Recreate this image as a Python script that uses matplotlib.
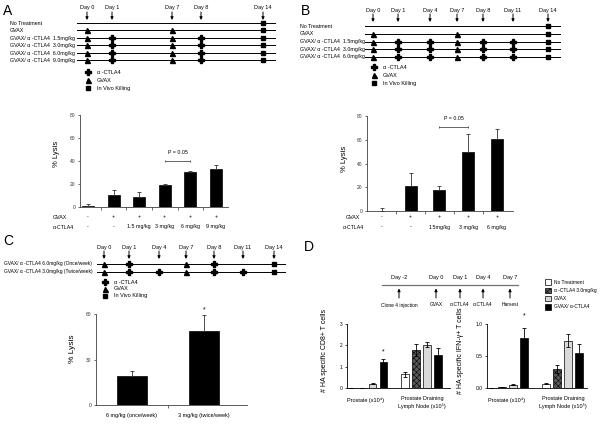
import matplotlib
matplotlib.use("Agg")
import matplotlib.pyplot as plt
import numpy as np

plt.rcParams['font.family'] = ['Liberation Sans', 'DejaVu Sans']
plt.rcParams['hatch.linewidth'] = 0.4

# ---------------- data ----------------
# Panel A schedule
a_days = [0, 1, 7, 8, 14]
a_rows = ["No Treatment", "GVAX",
          "GVAX/ α -CTLA4  1.5mg/kg", "GVAX/ α -CTLA4  3.0mg/kg",
          "GVAX/ α -CTLA4  6.0mg/kg", "GVAX/ α -CTLA4  9.0mg/kg"]
a_gvax = [[], [0, 7], [0, 7], [0, 7], [0, 7], [0, 7]]
a_ctla4 = [[], [], [1, 8], [1, 8], [1, 8], [1, 8]]
kill_day = 14
# Panel A lysis
a_lysis = [0.5, 10.0, 8.6, 19.0, 30.5, 33.4]
a_err = [2.1, 4.7, 4.1, 1.1, 1.2, 2.9]
a_gvax_row = ["-", "+", "+", "+", "+", "+"]
a_ctla4_row = ["-", "-", "1.5 mg/kg", "3 mg/kg", "6 mg/kg", "9 mg/kg"]

# Panel B schedule
b_days = [0, 1, 4, 7, 8, 11, 14]
b_rows = ["No Treatment", "GVAX",
          "GVAX/ α -CTLA4  1.5mg/kg", "GVAX/ α -CTLA4  3.0mg/kg",
          "GVAX/ α -CTLA4  6.0mg/kg"]
b_gvax = [[], [0, 7], [0, 7], [0, 7], [0, 7]]
b_ctla4 = [[], [], [1, 4, 8, 11], [1, 4, 8, 11], [1, 4, 8, 11]]
# Panel B lysis
b_lysis = [0.3, 21.2, 18.0, 50.0, 61.0]
b_err = [2.0, 11.2, 3.0, 14.5, 8.0]
b_gvax_row = ["-", "+", "+", "+", "+"]
b_ctla4_row = ["-", "-", "1.5mg/kg", "3 mg/kg", "6 mg/kg"]

# Panel C schedule
c_days = [0, 1, 4, 7, 8, 11, 14]
c_rows = ["GVAX/ α -CTLA4 6.0mg/kg (Once/week)",
          "GVAX/ α -CTLA4 3.0mg/kg (Twice/week)"]
c_gvax = [[0, 7], [0, 7]]
c_ctla4 = [[1, 8], [1, 4, 8, 11]]
# Panel C lysis
c_labels = ["6 mg/kg (once/week)", "3 mg/kg (twice/week)"]
c_lysis = [18.8, 48.6]
c_err = [3.7, 11.0]

# Panel D timeline
d_days = ["Day -2", "Day 0", "Day 1", "Day 4", "Day 7"]
d_events = ["Clone 4 injection", "GVAX", "α-CTLA4", "α-CTLA4", "Harvest"]
# Panel D bars
d_groups = ["Prostate (x10⁴)", "Prostate Draining\nLymph Node (x10⁵)"]
d_series = ["No Treatment", "α -CTLA4 3.0mg/kg", "GVAX", "GVAX/ α-CTLA4"]
d_cd8 = [[0.0, 0.64], [0.02, 1.80], [0.20, 2.02], [1.20, 1.53]]
d_cd8_err = [[0.0, 0.12], [0.0, 0.28], [0.03, 0.12], [0.15, 0.33]]
d_ifn = [[0.0, 0.07], [0.02, 0.295], [0.053, 0.74], [0.78, 0.55]]
d_ifn_err = [[0.0, 0.01], [0.0, 0.06], [0.01, 0.10], [0.16, 0.14]]

# ---------------- layout ----------------
W, H = 600, 443
fig = plt.figure(figsize=(6, 4.43), dpi=100)
ov = fig.add_axes([0, 0, 1, 1], zorder=0)
ov.set_xlim(0, W)
ov.set_ylim(H, 0)
ov.axis('off')


def rect(x0, y0, x1, y1):
    return [x0 / W, 1 - y1 / H, (x1 - x0) / W, (y1 - y0) / H]


FS = 4.0  # small schematic text


def schematic(days, day_x, rows, gvax, ctla4, rows_y, line_x, label_x,
              day_y, arrow_y, leg_x, leg_y, row_fs=FS):
    for d in days:
        ov.text(day_x[d], day_y, f"Day {d}", ha='center', va='center', fontsize=FS)
        ov.annotate('', xy=(day_x[d], arrow_y[1]), xytext=(day_x[d], arrow_y[0]),
                    arrowprops=dict(arrowstyle='-|>', color='black', lw=0.7,
                                    mutation_scale=4, shrinkA=0, shrinkB=0))
    for i, row in enumerate(rows):
        y = rows_y[i]
        ov.plot(line_x, [y, y], color='black', lw=0.7)
        ov.text(label_x, y, row, ha='left', va='center', fontsize=row_fs)
        if gvax[i]:
            ov.plot([day_x[d] for d in gvax[i]], [y] * len(gvax[i]), ls='none',
                    marker='^', color='black', ms=3.6)
        if ctla4[i]:
            ov.plot([day_x[d] for d in ctla4[i]], [y] * len(ctla4[i]), ls='none',
                    marker='P', color='black', ms=4.4)
        ov.plot([day_x[kill_day]], [y], ls='none', marker='s', color='black', ms=3.4)
    legs = [('P', 4.4, "α -CTLA4"), ('^', 3.6, "GVAX"), ('s', 3.4, "In Vivo Killing")]
    for (m, ms, t), yy in zip(legs, leg_y):
        ov.plot([leg_x], [yy], ls='none', marker=m, color='black', ms=ms)
        ov.text(leg_x + 9, yy, t, ha='left', va='center', fontsize=FS)


# Panel letters
for lt, (x, y) in zip("ABCD", [(3, 11), (301, 11), (3, 241), (304, 247)]):
    ov.text(x, y, lt, fontsize=10, ha='left', va='center')

# A schematic
schematic(a_days, {0: 87, 1: 112, 7: 172, 8: 201, 14: 263}, a_rows, a_gvax, a_ctla4,
          [23, 30, 38, 45, 53, 60], [77, 275], 10, 7, (12, 20), 88, [72, 80, 88],
          row_fs=3.8)
# B schematic
schematic(b_days, {0: 373, 1: 398, 4: 430, 7: 457, 8: 483, 11: 513, 14: 548},
          b_rows, b_gvax, b_ctla4, [26, 33.5, 41.5, 49, 56.5], [365, 560], 300, 10,
          (14, 22), 374, [67, 75, 83], row_fs=3.8)
# C schematic
schematic(c_days, {0: 104, 1: 129, 4: 159, 7: 186, 8: 214, 11: 243, 14: 274},
          c_rows, c_gvax, c_ctla4, [264, 272], [97, 285], 4, 247, (251, 259),
          105, [282, 289, 296], row_fs=3.5)


def lysis_ax(px, vals, errs, ymax, yticks, xlim, width, ticks_x):
    ax = fig.add_axes(rect(*px), zorder=1)
    ax.patch.set_alpha(0)
    x = np.arange(len(vals))
    ax.bar(x, vals, width=width, color='black', edgecolor='black', lw=0.5)
    ax.errorbar(x, vals, yerr=[np.zeros(len(errs)), errs], fmt='none',
                ecolor='0.2', elinewidth=0.6, capsize=1.5, capthick=0.6)
    ax.set_xlim(*xlim)
    ax.set_ylim(0, ymax)
    ax.set_yticks(yticks)
    ax.set_xticks(ticks_x)
    ax.set_xticklabels([])
    for s in ['top', 'right']:
        ax.spines[s].set_visible(False)
    for s in ['left', 'bottom']:
        ax.spines[s].set_linewidth(0.6)
        ax.spines[s].set_color('0.25')
    ax.tick_params(labelsize=3.5, length=1.8, width=0.5, pad=1.5, colors='0.2')
    return ax, x


def below(ax, px, ypx):
    # convert pixel y to axes fraction
    return (px[3] - ypx) / (px[3] - px[1])


# A bars
pxA = (80, 115, 228, 207)
axA, xA = lysis_ax(pxA, a_lysis, a_err, 80, [0, 20, 40, 60, 80], (-0.31, 5.47), 0.47,
                   np.arange(len(a_lysis) - 1) + 0.5)
axA.set_ylabel("% Lysis", fontsize=5.5)
axA.yaxis.set_label_coords((60 - 80) / 148, 0.58)
axA.plot([3, 4], [40, 40], color='0.3', lw=0.6, marker='|', ms=2, mew=0.6)
axA.text(3.5, 47.5, "P = 0.05", ha='center', va='center', fontsize=3.8)
for i in range(len(a_lysis)):
    axA.text(xA[i], below(axA, pxA, 217), a_gvax_row[i], transform=axA.get_xaxis_transform(),
             ha='center', va='center', fontsize=3.8)
    axA.text(xA[i], below(axA, pxA, 227), a_ctla4_row[i], transform=axA.get_xaxis_transform(),
             ha='center', va='center', fontsize=3.8)
ov.text(53, 217, "GVAX", ha='left', va='center', fontsize=3.8)
ov.text(53, 227, "α-CTLA4", ha='left', va='center', fontsize=3.8)

# B bars
pxB = (367, 116, 513, 211)
axB, xB = lysis_ax(pxB, b_lysis, b_err, 80, [0, 20, 40, 60, 80], (-0.52, 4.56), 0.42,
                   np.arange(len(b_lysis) - 1) + 0.5)
axB.set_ylabel("% Lysis", fontsize=5.5)
axB.yaxis.set_label_coords((348 - 367) / 146, 0.55)
axB.plot([2, 3], [71, 71], color='0.3', lw=0.6, marker='|', ms=2, mew=0.6)
axB.text(2.5, 77.5, "P = 0.05", ha='center', va='center', fontsize=3.8)
for i in range(len(b_lysis)):
    axB.text(xB[i], below(axB, pxB, 217), b_gvax_row[i], transform=axB.get_xaxis_transform(),
             ha='center', va='center', fontsize=3.8)
    axB.text(xB[i], below(axB, pxB, 227), b_ctla4_row[i], transform=axB.get_xaxis_transform(),
             ha='center', va='center', fontsize=3.8)
ov.text(346, 217, "GVAX", ha='left', va='center', fontsize=3.8)
ov.text(343, 227, "α-CTLA4", ha='left', va='center', fontsize=3.8)

# C bars
pxC = (96, 314, 247, 405)
axC, xC = lysis_ax(pxC, c_lysis, c_err, 60, [0, 30, 60], (-0.5, 1.6), 0.42, [0.5])
axC.set_ylabel("% Lysis", fontsize=6)
axC.yaxis.set_label_coords((76 - 96) / 151, 0.62)
axC.text(xC[1], 62.5, "*", ha='center', va='center', fontsize=5)
for i in range(len(c_lysis)):
    axC.text(xC[i], below(axC, pxC, 416), c_labels[i], transform=axC.get_xaxis_transform(),
             ha='center', va='center', fontsize=4)

# D timeline
d_x = [399, 436, 460, 483, 510]
ov.plot([382, 518], [285, 285], color='0.45', lw=0.9)
for xx, dl, ev in zip(d_x, d_days, d_events):
    ov.text(xx, 278, dl, ha='center', va='center', fontsize=4)
    ov.annotate('', xy=(xx, 288.5), xytext=(xx, 298),
                arrowprops=dict(arrowstyle='-|>', color='black', lw=0.7,
                                mutation_scale=4, shrinkA=0, shrinkB=0))
    ov.text(xx, 305, ev, ha='center', va='center', fontsize=3.5)

# D legend
d_face = ['white', '0.35', '0.85', 'black']
d_hatch = [None, 'xxxxxx', None, None]
for i, (lab, yy) in enumerate(zip(d_series, [282, 290.5, 298.5, 307])):
    ov.add_patch(plt.Rectangle((545, yy - 2.8), 6, 5.6, facecolor=d_face[i],
                               edgecolor='black', lw=0.5, hatch=d_hatch[i]))
    ov.text(554, yy, lab, ha='left', va='center', fontsize=3.5)


def d_ax(px, vals, errs, ymax, yticks, yticklabels, xlim, ylabel, lab_x, star_y):
    ax = fig.add_axes(rect(*px), zorder=1)
    ax.patch.set_alpha(0)
    g = np.arange(len(d_groups))
    for i in range(len(d_series)):
        ax.bar(g + (i - 1.5) * 0.2, vals[i], width=0.145, color=d_face[i],
               edgecolor='black', lw=0.5, hatch=d_hatch[i], zorder=2)
        ax.errorbar(g + (i - 1.5) * 0.2, vals[i], yerr=errs[i], fmt='none',
                    ecolor='black', elinewidth=0.6, capsize=1.6, capthick=0.6, zorder=3)
    ax.set_xlim(*xlim)
    ax.set_ylim(0, ymax)
    ax.set_yticks(yticks)
    ax.set_yticklabels(yticklabels)
    ax.set_xticks([])
    for s in ['top', 'right']:
        ax.spines[s].set_visible(False)
    for s in ['left', 'bottom']:
        ax.spines[s].set_linewidth(0.6)
    ax.tick_params(labelsize=3.5, length=1.8, width=0.5, pad=1.5)
    ax.set_ylabel(ylabel, fontsize=5)
    ax.yaxis.set_label_coords((lab_x - px[0]) / (px[2] - px[0]), 0.58)
    ax.text(g[0] + 0.3, star_y, "*", ha='center', va='center', fontsize=5, clip_on=False)
    trans = ax.get_xaxis_transform()
    ax.text(g[0] - 0.03, below(ax, px, 400), d_groups[0], transform=trans,
            ha='center', va='center', fontsize=4)
    ax.text(g[1], below(ax, px, 402.5), d_groups[1], transform=trans,
            ha='center', va='center', fontsize=4, linespacing=1.3)
    return ax


d_ax((347, 324, 450, 388), d_cd8, d_cd8_err, 3, [0, 1, 2, 3], ["0", "1", "2", "3"],
     (-0.364, 1.51), "# HA specific CD8+ T cells", 328, 1.7)
d_ax((487, 324, 587, 388), d_ifn, d_ifn_err, 1.0, [0.0, 0.5, 1.0], ["0.0", "0.5", "1.0"],
     (-0.38, 1.44), "# HA specific IFN-γ+ T cells", 464, 1.13)

fig.savefig("out.png", dpi=100)
